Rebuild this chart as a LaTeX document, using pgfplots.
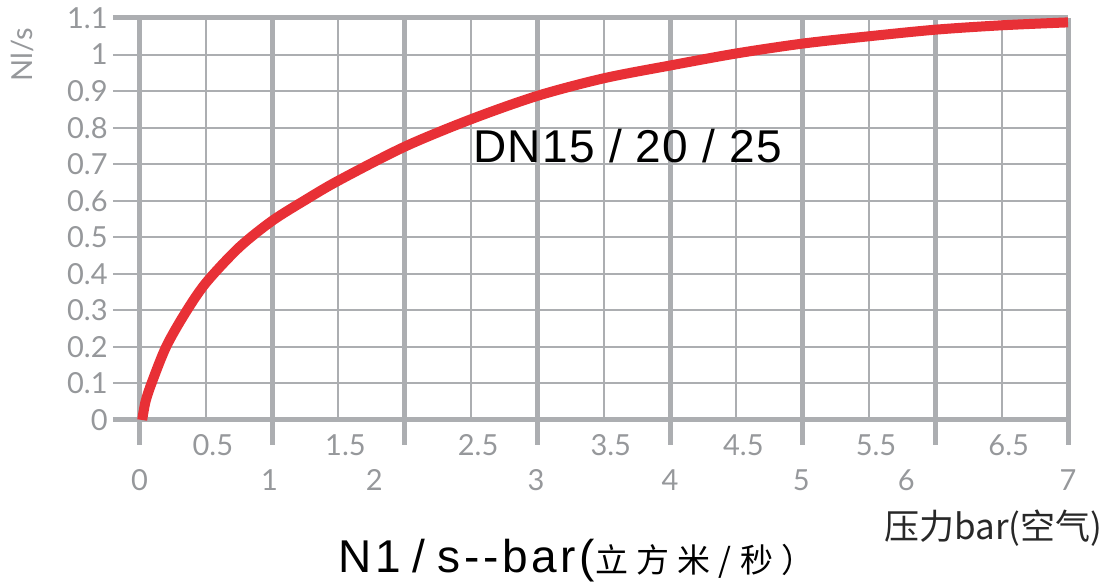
\documentclass[border=0pt]{standalone}
\usepackage{pgfplots}
\pgfplotsset{compat=1.18}
\usepackage{fontspec}
\setmainfont{Liberation Sans}
\newfontfamily\widesans{Liberation Sans}[LetterSpace=8]
\newfontfamily\labelsans{Liberation Sans}[LetterSpace=3]
\newfontfamily\tickfont{Lato}
\newfontfamily\cjk{Noto Sans CJK SC}
\newfontfamily\cjkwide{Noto Sans CJK SC}[LetterSpace=25]
\definecolor{gridgray}{RGB}{172,174,177}
\definecolor{labgray}{RGB}{150,152,155}
\definecolor{curvered}{RGB}{232,48,54}
\definecolor{darktext}{RGB}{40,40,40}

\pgfplotsset{
  frame/.style={
    at={(0,0)}, anchor=south west, scale only axis,
    width=477.5pt, height=201pt,
    xmin=-0.2, xmax=7, ymin=0, ymax=1.1,
    axis line style={draw=none},
    xtick pos=bottom, ytick pos=left,
    major tick length=0pt,
  },
  ticktext/.style={font=\tickfont\fontsize{14.5}{14.5}\selectfont, text=labgray},
}

\begin{document}
\begin{tikzpicture}
\path[use as bounding box] (-56.5pt,-84pt) rectangle (495.5pt,210pt);

% thin grid and y labels
\begin{axis}[frame,
  xtick={0,0.5,...,7}, xticklabels={},
  ytick={0,0.1,0.2,0.3,0.4,0.5,0.6,0.7,0.8,0.9,1,1.1},
  grid=major, major grid style={gridgray, line width=1pt},
  /pgf/number format/assume math mode=true,
  yticklabel style={ticktext, anchor=east, inner sep=0pt, xshift=-2.5pt},
]
\end{axis}

% thick grid lines and tick marks
\begin{axis}[frame,
  xtick={0,1,...,7}, xticklabels={},
  ytick={0,1.1}, yticklabels={},
  grid=major, major grid style={gridgray, line width=2.5pt},
  tick align=outside, major tick length=12.5pt,
  xtick style={gridgray, line width=2.5pt},
  ytick style={draw=none},
]
\end{axis}

% half-step labels
\begin{axis}[frame,
  xtick={0.5,1.5,...,6.5},
  xticklabels={0.5,1.5,2.5,3.5,4.5,5.5,6.5},
  ytick=\empty,
  xticklabel style={ticktext, anchor=center, yshift=-12.5pt, xshift=3.5pt},
]
\end{axis}

% integer labels and the curve
\begin{axis}[frame, clip=false,
  xtick={0,0.98,1.77,2.99,4,4.99,5.78,7},
  xticklabels={0,1,2,3,4,5,6,7},
  ytick=\empty,
  xticklabel style={ticktext, anchor=center, yshift=-30pt},
]
\addplot[curvered, line width=5pt, smooth] coordinates {
  (0.02,0) (0.045,0.05) (0.09,0.1) (0.2,0.2) (0.34,0.29) (0.5,0.375)
  (0.75,0.472) (1.0,0.545) (1.25,0.602) (1.5,0.655) (2.0,0.748)
  (2.5,0.823) (3.0,0.887) (3.5,0.935) (4.0,0.97) (4.5,1.003) (5.0,1.03)
  (5.5,1.05) (6.0,1.068) (6.5,1.08) (7.0,1.088)
};
\end{axis}

\node[anchor=base west, inner sep=0pt, text=black] at (180pt,128.5pt)
  {\labelsans\fontsize{23}{23}\selectfont DN15\hspace{7pt}/\hspace{7pt}20\hspace{7pt}/\hspace{7pt}25};
\node[rotate=90, anchor=center, inner sep=0pt, text=labgray] at (-45.5pt,182.5pt)
  {\tickfont\fontsize{14.5}{14.5}\selectfont Nl/s};
\node[anchor=base west, inner sep=0pt, text=black] at (112.5pt,-76.5pt)
  {\widesans\fontsize{23}{23}\selectfont N1\hspace{6pt}/\hspace{6pt}s-{}-bar({\cjkwide\fontsize{16.5}{16.5}\selectfont 立方米/秒）}};
\node[anchor=base west, inner sep=0pt, text=darktext] at (385.5pt,-60pt)
  {\cjk\fontsize{17.5}{17.5}\selectfont 压力bar(空气)};
\end{tikzpicture}
\end{document}
